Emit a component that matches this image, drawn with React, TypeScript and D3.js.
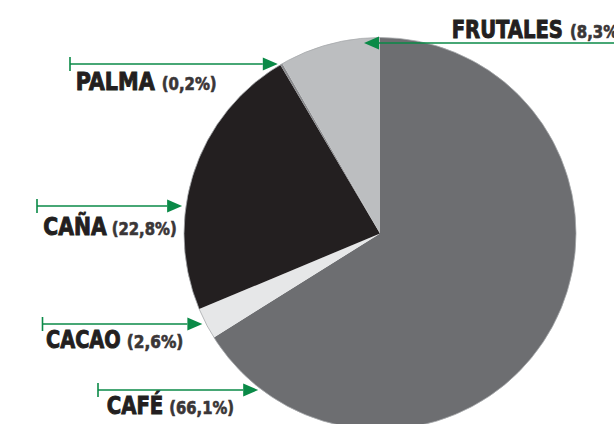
import React from "react";
import * as d3 from "d3";

const categories = ["CAFÉ", "CACAO", "CAÑA", "PALMA", "FRUTALES"];
const values = [66.1, 2.6, 22.8, 0.2, 8.3];
const valueLabels = ["(66,1%)", "(2,6%)", "(22,8%)", "(0,2%)", "(8,3%)"];

const sliceColors = ["#6d6e71", "#e6e7e8", "#231f20", "#8a8b8e", "#bcbec0"];

// annotation layout (per category, same order)
const labelLayout = [
  { tickX: 98, lineY: 390, textX: 106.7, baseY: 414, mainW: 56.6, subX: 169.3, subW: 64.7 },
  { tickX: 42.5, lineY: 324, textX: 46, baseY: 347.5, mainW: 74.7, subX: 126.7, subW: 56.6 },
  { tickX: 37, lineY: 206, textX: 43.3, baseY: 235, mainW: 63.4, subX: 111.7, subW: 65 },
  { tickX: 70, lineY: 64, textX: 75.7, baseY: 90, mainW: 79, subX: 161.7, subW: 55 },
  { tickX: 640, lineY: 43, textX: 451.7, baseY: 37.5, mainW: 111.3, subX: 570, subW: 55, tipX: 364 },
];

const W = 614;
const H = 424;
const cx = 380;
const cy = 233.5;
const R = 196;
const GREEN = "#0a8a47";
const FONT = "'Liberation Sans Narrow', 'DejaVu Sans Condensed', 'Roboto Condensed', sans-serif";

export default function App() {
  const pie = d3.pie<number>().sort(null).value((d) => d).startAngle(0).endAngle(2 * Math.PI);
  const arcs = pie(values);
  const arc = d3.arc<d3.PieArcDatum<number>>().innerRadius(0).outerRadius(R);

  return (
    <svg width={W} height={H} style={{ position: "absolute", left: 0, top: 0, background: "#fff" }}>
      <g transform={`translate(${cx},${cy})`}>
        {arcs.map((a, i) => (
          <path key={i} d={arc(a) || ""} fill={sliceColors[i]} />
        ))}
        <circle r={R} fill="none" stroke="#a7a9ac" strokeWidth={0.8} />
      </g>
      {categories.map((c, i) => {
        const L = labelLayout[i];
        const y = L.lineY;
        const dy = y - cy;
        const edgeX = cx - Math.sqrt(Math.max(0, R * R - dy * dy));
        const leftward = L.tickX > cx;
        const tip = L.tipX !== undefined ? L.tipX : edgeX - 3.8;
        const ah = 15;
        const hw = 6.5;
        const lineEnd = leftward ? tip + ah : tip - ah;
        const tri = leftward
          ? `M${tip},${y} L${tip + ah},${y - hw} L${tip + ah},${y + hw} Z`
          : `M${tip},${y} L${tip - ah},${y - hw} L${tip - ah},${y + hw} Z`;
        return (
          <g key={c}>
            <line x1={L.tickX} y1={y} x2={lineEnd} y2={y} stroke={GREEN} strokeWidth={1.6} />
            {!leftward && (
              <line x1={L.tickX} y1={y - 7} x2={L.tickX} y2={y + 7} stroke={GREEN} strokeWidth={1.6} />
            )}
            <path d={tri} fill={GREEN} />
            <text
              x={L.textX}
              y={L.baseY}
              fontFamily={FONT}
              fontWeight="bold"
              fontSize={24.5}
              fill="#231f20"
              stroke="#231f20"
              strokeWidth={0.9}
              textLength={L.mainW}
              lengthAdjust="spacingAndGlyphs"
            >
              {c}
            </text>
            <text
              x={L.subX}
              y={L.baseY}
              fontFamily={FONT}
              fontWeight="bold"
              fontSize={17.5}
              fill="#3a3637"
              stroke="#3a3637"
              strokeWidth={0.6}
              textLength={L.subW}
              lengthAdjust="spacingAndGlyphs"
            >
              {valueLabels[i]}
            </text>
          </g>
        );
      })}
    </svg>
  );
}
